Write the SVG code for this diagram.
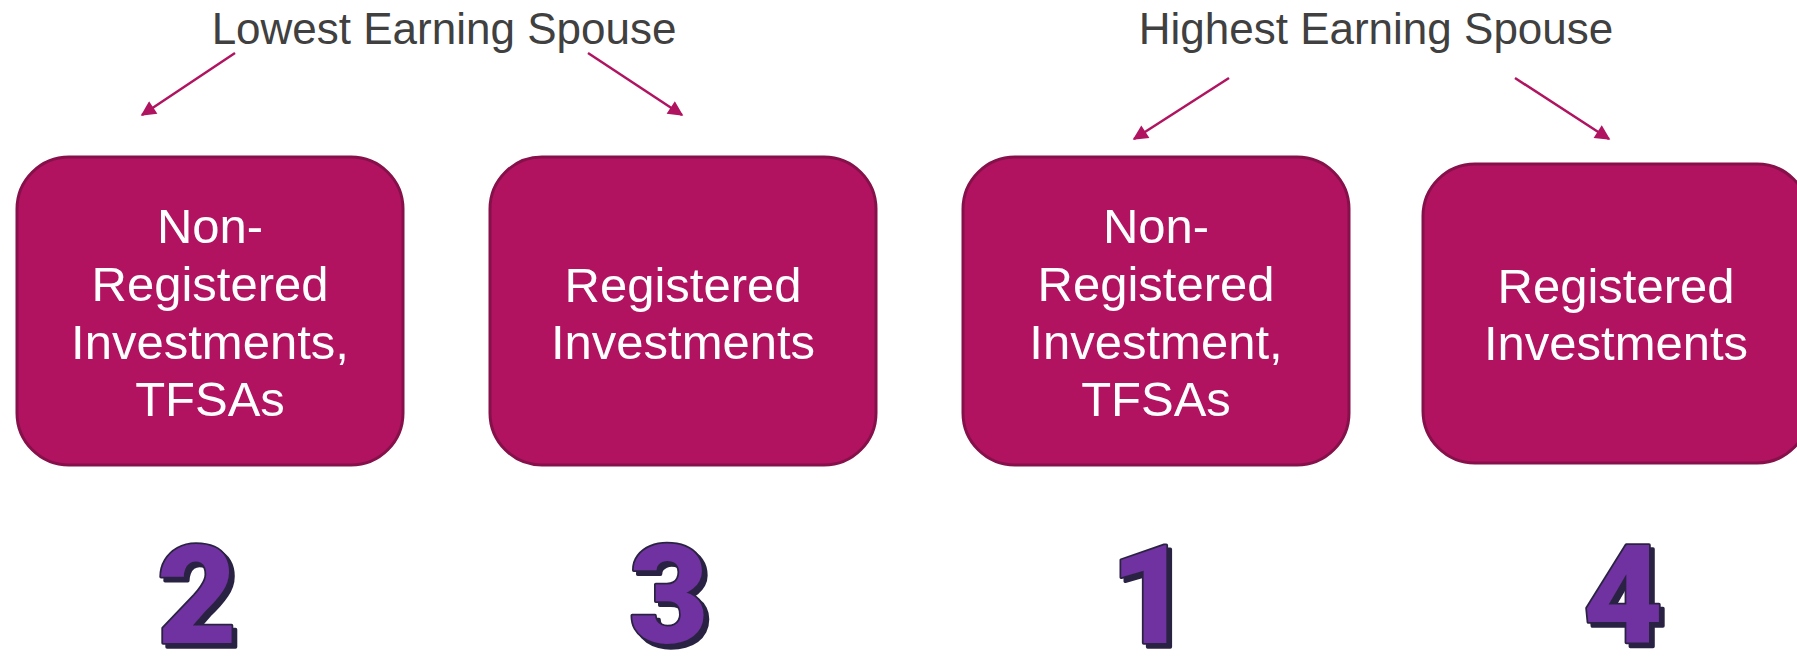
<svg xmlns="http://www.w3.org/2000/svg" width="1797" height="659" viewBox="0 0 1797 659">
  <style>
    .heading { font-family: "Liberation Sans", Arial, sans-serif; font-size: 44px; fill: #404040; text-anchor: middle; }
    .box { fill: #B11361; stroke: #86104A; stroke-width: 3; }
    .label { font-family: "Liberation Sans", Arial, sans-serif; font-size: 49px; fill: #FFFFFF; text-anchor: middle; }
    .arrow { stroke: #B0135F; stroke-width: 2.5; fill: none; marker-end: url(#head); }
    .num { font-family: Roboto, "Liberation Sans", Arial, sans-serif; font-weight: 900; font-size: 138px; text-anchor: middle; fill: #7030A0; stroke: #2B2443; stroke-width: 3.5; stroke-linejoin: round; paint-order: stroke; filter: url(#shadow); }
  </style>
  <defs>
    <marker id="head" viewBox="0 0 10 10" refX="9" refY="5" markerWidth="6.5" markerHeight="6" markerUnits="strokeWidth" orient="auto">
      <path d="M0,0 L10,5 L0,10 z" fill="#B0135F"/>
    </marker>
    <!-- hard offset shadow behind the order digits -->
    <filter id="shadow" x="-20%" y="-20%" width="150%" height="150%">
      <feDropShadow dx="4" dy="4" stdDeviation="0" flood-color="#2B2443" flood-opacity="1"/>
    </filter>
  </defs>

  <!-- spouse headings -->
  <text id="lowest-heading" class="heading" x="444" y="44">Lowest Earning Spouse</text>
  <text id="highest-heading" class="heading" x="1376" y="44">Highest Earning Spouse</text>

  <!-- connectors -->
  <g id="connectors">
    <line class="arrow" x1="235" y1="53" x2="142" y2="115"/>
    <line class="arrow" x1="588" y1="53" x2="682" y2="115"/>
    <line class="arrow" x1="1229" y1="78" x2="1134" y2="139"/>
    <line class="arrow" x1="1515" y1="78" x2="1609" y2="139"/>
  </g>

  <!-- account boxes -->
  <g id="box-low-nonreg">
    <rect class="box" x="17" y="157" width="386" height="308" rx="52" ry="52"/>
    <text class="label" x="210" y="243">Non-</text>
    <text class="label" x="210" y="301">Registered</text>
    <text class="label" x="210" y="359">Investments,</text>
    <text class="label" x="210" y="416">TFSAs</text>
  </g>
  <g id="box-low-reg">
    <rect class="box" x="490" y="157" width="386" height="308" rx="52" ry="52"/>
    <text class="label" x="683" y="302">Registered</text>
    <text class="label" x="683" y="359">Investments</text>
  </g>
  <g id="box-high-nonreg">
    <rect class="box" x="963" y="157" width="386" height="308" rx="52" ry="52"/>
    <text class="label" x="1156" y="243">Non-</text>
    <text class="label" x="1156" y="301">Registered</text>
    <text class="label" x="1156" y="359">Investment,</text>
    <text class="label" x="1156" y="416">TFSAs</text>
  </g>
  <g id="box-high-reg">
    <rect class="box" x="1423" y="164" width="386" height="299" rx="52" ry="52"/>
    <text class="label" x="1616" y="303">Registered</text>
    <text class="label" x="1616" y="360">Investments</text>
  </g>

  <!-- withdrawal order numbers -->
  <g id="order-2"><text class="num" x="197" y="643">2</text></g>
  <g id="order-3"><text class="num" x="669" y="643">3</text></g>
  <g id="order-1"><text class="num" x="1150" y="643">1</text></g>
  <g id="order-4"><text class="num" x="1623" y="643">4</text></g>
</svg>
